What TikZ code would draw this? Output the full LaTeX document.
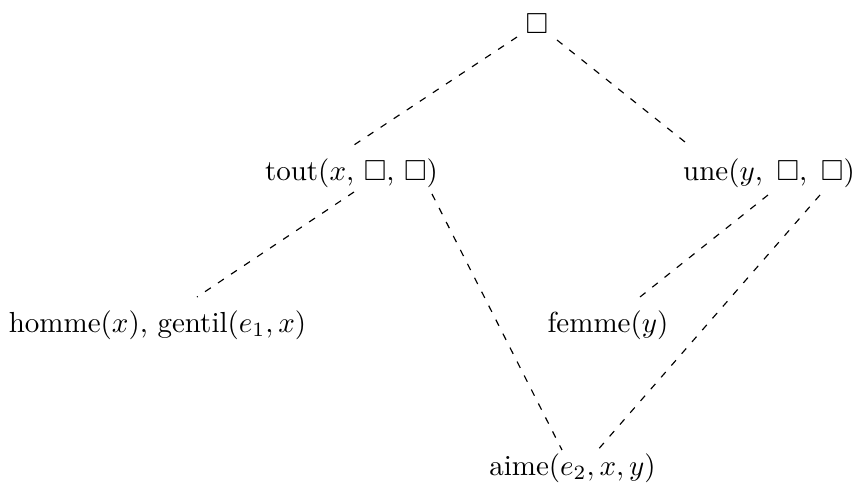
\documentclass[tikz,border=0pt]{standalone}
\usepackage{amssymb}
\begin{document}
\begin{tikzpicture}[x=0.3448pt,y=-0.3448pt,
  lbl/.style={inner sep=0pt,anchor=base},
  link/.style={dash pattern=on 2.4pt off 3pt,line width=0.4pt}]
\useasboundingbox (0,0) rectangle (855,489);
\node[lbl] (root) at (537,33) {$\Box$};
\node[lbl] (tout) at (351.5,180) {tout($x$, $\Box$, $\Box$)};
\node[lbl] (une) at (769,180) {une($y$,\kern1.4pt{} $\Box$,\kern1.4pt{} $\Box$)};
\node[lbl] (homme) at (157.5,332) {homme($x$), gentil($e_1, x$)};
\node[lbl] (femme) at (608,332) {femme($y$)};
\node[lbl] (aime) at (572.5,475) {aime($e_2, x, y$)};
% connector end points
\coordinate (rootL) at (517,37);
\coordinate (rootR) at (557,40);
\coordinate (toutT) at (354,145);
\coordinate (uneT) at (690,146);
\coordinate (toutA) at (354,192);
\coordinate (toutB) at (432,194);
\coordinate (uneA) at (768,195);
\coordinate (uneB) at (820,195);
\coordinate (hommeT) at (197,297);
\coordinate (femmeT) at (640,297);
\coordinate (aimeL) at (562,450);
\coordinate (aimeR) at (596,452);
\draw[link] (rootL) -- (toutT);
\draw[link] (rootR) -- (uneT);
\draw[link] (toutA) -- (hommeT);
\draw[link] (toutB) -- (aimeL);
\draw[link] (uneA) -- (femmeT);
\draw[link] (uneB) -- (aimeR);
\end{tikzpicture}
\end{document}
